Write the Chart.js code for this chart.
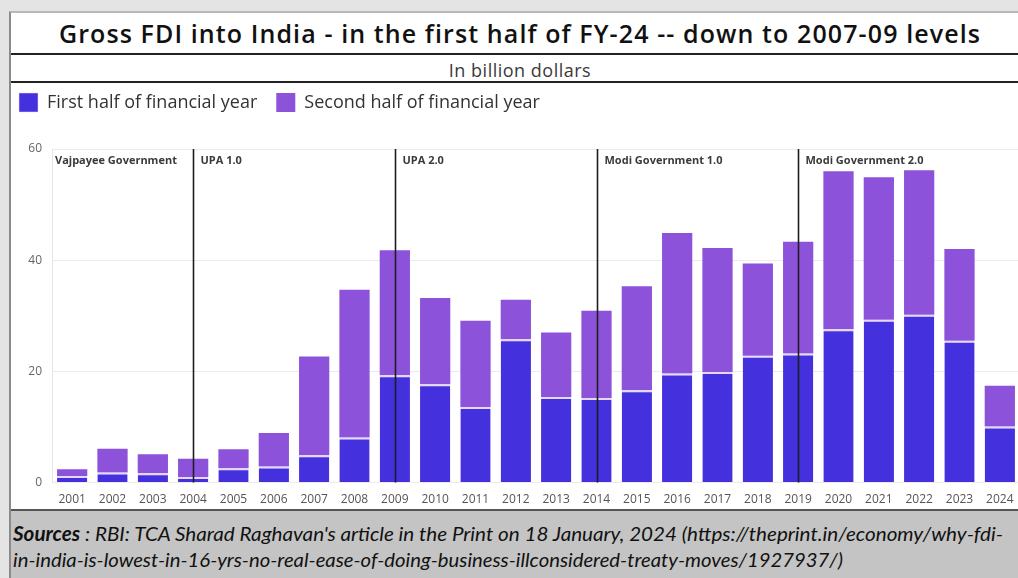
<!DOCTYPE html>
<html>
<head>
<meta charset="utf-8">
<script src="https://cdn.jsdelivr.net/npm/chart.js@4"></script>
<style>
  html, body { margin: 0; padding: 0; }
  body { width: 1018px; height: 578px; overflow: hidden; background: #e4e4e4; position: relative; }
  #frame { position: absolute; left: 9px; top: 11px; width: 1020px; height: 580px; background: #fff;
           border-left: 2px solid #8a8a8a; border-top: 2px solid #b8b8b8; }
  #title { position: absolute; left: 0; top: 21px; width: 1040px; text-align: center; line-height: 25px;
           font-family: 'Open Sans', sans-serif; font-weight: 600; font-size: 25px; letter-spacing: 1.1px;
           color: #111; white-space: nowrap; }
  .rule { position: absolute; left: 11px; width: 1010px; height: 2px; background: #222; }
  #sub { position: absolute; left: 0; top: 61px; width: 1040px; text-align: center; line-height: 18px;
         font-family: 'Open Sans', sans-serif; font-size: 18px; letter-spacing: 0.5px; color: #3a3a3a; }
  #wrap { position: absolute; left: 0; top: 74px; width: 1020px; height: 435px; }
  #footer { position: absolute; left: 11px; top: 509px; width: 1010px; height: 70px; background: #c4c4c4;
            border-top: 2px solid #555; font-family: Lato, sans-serif;
            font-style: italic; font-size: 20px; color: #111; line-height: 26px; padding: 9px 0 0 2px; box-sizing: border-box; white-space: nowrap; }
  #footer span { display: inline-block; transform-origin: 0 0; }
</style>
</head>
<body>
<div id="frame"></div>
<div id="title">Gross FDI into India - in the first half of FY-24 -- down to 2007-09 levels</div>
<div class="rule" style="top:53px"></div>
<div id="sub">In billion dollars</div>
<div class="rule" style="top:81px"></div>
<div id="wrap"><canvas id="fdiChart"></canvas></div>
<div id="footer"><span id="src1" data-w="990"><b>Sources</b> : RBI: TCA Sharad Raghavan's article in the Print on 18 January, 2024 (https://theprint.in/economy/why-fdi-</span><br><span id="src2" data-w="830">in-india-is-lowest-in-16-yrs-no-real-ease-of-doing-business-illconsidered-treaty-moves/1927937/)</span></div>
<script>
const years = ['2001','2002','2003','2004','2005','2006','2007','2008','2009','2010','2011','2012',
               '2013','2014','2015','2016','2017','2018','2019','2020','2021','2022','2023','2024'];
const firstHalf = [1.2, 1.8, 1.7, 1.0, 2.6, 2.9, 4.9, 8.1, 19.3, 17.7, 13.6, 25.8,
                   15.4, 15.2, 16.6, 19.6, 19.9, 22.8, 23.2, 27.6, 29.3, 30.2, 25.5, 10.1];
const secondHalf = [1.2, 4.3, 3.4, 3.3, 3.4, 6.0, 17.8, 26.6, 22.5, 15.5, 15.5, 7.1,
                    11.6, 15.7, 18.7, 25.3, 22.3, 16.6, 20.1, 28.4, 25.6, 26.0, 16.5, 7.3];
const yTicks = [0, 20, 40, 60];
const govStartYears = ['2004', '2009', '2014', '2019'];
const govNames = ['Vajpayee Government', 'UPA 1.0', 'UPA 2.0', 'Modi Government 1.0', 'Modi Government 2.0'];

// squeeze the footer lines to the width they take in the original
document.fonts.ready.then(() => {
    document.querySelectorAll('#footer span').forEach(el => {
        const w = el.getBoundingClientRect().width;
        el.style.transform = 'scaleX(' + (Number(el.dataset.w) / w) + ')';
    });
});

const govLines = {
    id: 'govLines',
    afterDatasetsDraw(chart) {
        const ctx = chart.ctx;
        const xs = chart.scales.x;
        const area = chart.chartArea;
        ctx.save();
        ctx.font = 'bold 11px "Open Sans", sans-serif';
        ctx.fillStyle = '#3a3a3a';
        ctx.textBaseline = 'top';
        ctx.fillText(govNames[0], area.left + 3, area.top + 6);
        govStartYears.forEach((yr, i) => {
            const x = Math.round(xs.getPixelForValue(years.indexOf(yr))) + 0.5;
            ctx.strokeStyle = '#1e1e1e';
            ctx.lineWidth = 1.6;
            ctx.beginPath();
            ctx.moveTo(x, area.top);
            ctx.lineTo(x, area.bottom);
            ctx.stroke();
            ctx.fillText(govNames[i + 1], x + 7, area.top + 6);
        });
        ctx.restore();
    }
};

const legendSpace = {
    id: 'legendSpace',
    beforeInit(chart) {
        const fit = chart.legend.fit;
        chart.legend.fit = function() {
            fit.bind(chart.legend)();
            this.height += 27;
        };
    }
};

new Chart(document.getElementById('fdiChart').getContext('2d'), {
    type: 'bar',
    data: {
        labels: years,
        datasets: [
            {
                label: 'First half of financial year',
                data: firstHalf,
                backgroundColor: '#4430dc',
                borderColor: '#e4d8fb',
                borderWidth: {top: 2, left: 0, right: 0, bottom: 0},
                borderSkipped: false
            },
            {
                label: 'Second half of financial year',
                data: secondHalf,
                backgroundColor: '#8c52da'
            }
        ]
    },
    options: {
        responsive: true,
        maintainAspectRatio: false,
        animation: false,
        datasets: { bar: { barPercentage: 0.75, categoryPercentage: 1.0 } },
        layout: { padding: 0 },
        plugins: {
            legend: {
                position: 'top',
                align: 'start',
                labels: {
                    boxWidth: 19,
                    boxHeight: 19,
                    padding: 19,
                    color: '#333',
                    font: { family: 'Open Sans', size: 18 }
                }
            },
            tooltip: { enabled: false }
        },
        scales: {
            x: {
                stacked: true,
                grid: { display: false },
                border: { display: false },
                ticks: { color: '#555', font: { family: 'Open Sans', size: 12 }, padding: 2, maxRotation: 0 }
            },
            y: {
                stacked: true,
                min: 0,
                max: 60,
                afterBuildTicks: s => { s.ticks = yTicks.map(v => ({ value: v })); },
                afterFit: s => { s.width = 52; },
                grid: { color: '#ebebeb', lineWidth: 1, drawTicks: false },
                border: { display: true, color: '#e6e6e6' },
                ticks: { color: '#666', font: { family: 'Open Sans', size: 12 }, padding: 10 }
            }
        }
    },
    plugins: [govLines, legendSpace]
});
</script>
</body>
</html>
